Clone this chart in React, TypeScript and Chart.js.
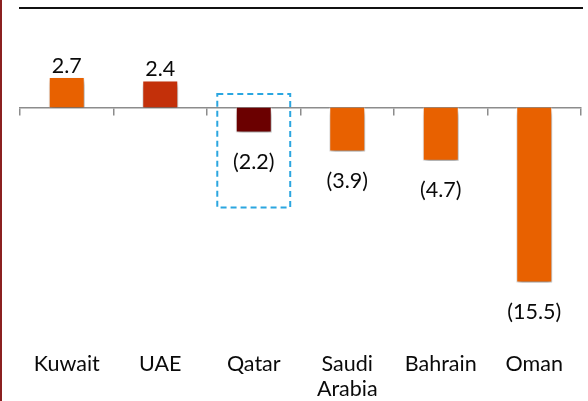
import React, { useEffect, useRef } from "react";
import { Chart, registerables } from "chart.js";

Chart.register(...registerables);

const categories: (string | string[])[] = ["Kuwait", "UAE", "Qatar", ["Saudi", "Arabia"], "Bahrain", "Oman"];
const values: number[] = [2.7, 2.4, -2.2, -3.9, -4.7, -15.5];
const barColors: string[] = ["#E86100", "#C3300A", "#6B0000", "#E86100", "#E86100", "#E86100"];
const highlightIndex = 2;
const highlightRange: [number, number] = [1.2, -8.85];

const FONT = "Lato, 'Open Sans', sans-serif";

const fmt = (v: number) => (v < 0 ? `(${Math.abs(v).toFixed(1)})` : v.toFixed(1));

const shadowPlugin = {
  id: "barShadow",
  beforeDatasetsDraw(chart: any) {
    const ctx = chart.ctx;
    ctx.save();
    ctx.shadowColor = "rgba(0,0,0,0.45)";
    ctx.shadowBlur = 5;
    ctx.shadowOffsetX = 1;
    ctx.shadowOffsetY = 4;
  },
  afterDatasetsDraw(chart: any) {
    chart.ctx.restore();
  },
};

const labelPlugin = {
  id: "valueLabels",
  afterDatasetsDraw(chart: any) {
    const ctx = chart.ctx;
    const meta = chart.getDatasetMeta(0);
    ctx.save();
    ctx.font = `21.5px ${FONT}`;
    ctx.fillStyle = "#0a0a0a";
    ctx.textAlign = "center";
    meta.data.forEach((bar: any, i: number) => {
      const v = values[i];
      if (v >= 0) {
        ctx.textBaseline = "alphabetic";
        ctx.fillText(fmt(v), bar.x, bar.y - 4);
      } else {
        ctx.textBaseline = "top";
        ctx.fillText(fmt(v), bar.x, bar.y + 19);
      }
    });
    ctx.restore();
  },
};

const boxPlugin = {
  id: "highlightBox",
  afterDraw(chart: any) {
    const ctx = chart.ctx;
    const xs = chart.scales.x;
    const ys = chart.scales.y;
    const cx = xs.getPixelForValue(highlightIndex);
    const catW = xs.width / categories.length;
    const half = catW * 0.39;
    const top = ys.getPixelForValue(highlightRange[0]);
    const bottom = ys.getPixelForValue(highlightRange[1]);
    ctx.save();
    ctx.strokeStyle = "#2BA6E0";
    ctx.lineWidth = 2;
    ctx.setLineDash([6, 4]);
    ctx.strokeRect(cx - half, top, half * 2, bottom - top);
    ctx.restore();
  },
};

export default function App() {
  const ref = useRef<HTMLCanvasElement>(null);
  useEffect(() => {
    document.body.style.margin = "0";
    const chart = new Chart(ref.current!, {
      type: "bar",
      data: {
        labels: categories,
        datasets: [
          {
            data: values,
            backgroundColor: barColors,
            borderColor: "rgba(255,255,255,0.7)",
            borderWidth: 1,
            barPercentage: 0.385,
            categoryPercentage: 1,
            xAxisID: "x",
          },
        ],
      },
      options: {
        animation: false,
        responsive: false,
        layout: { padding: { top: 20, left: 20, right: 7, bottom: -4 } },
        plugins: { legend: { display: false }, tooltip: { enabled: false } },
        scales: {
          x: {
            type: "category",
            position: { y: 0 } as any,
            offset: true,
            grid: {
              offset: true,
              drawOnChartArea: false,
              drawTicks: true,
              tickLength: 7,
              color: "#8C8C8C",
              lineWidth: 1.5,
            },
            border: { display: true, color: "#8C8C8C", width: 1.5 },
            ticks: { display: false },
          },
          x2: {
            type: "category",
            position: "bottom",
            offset: true,
            labels: categories as any,
            grid: { display: false, drawTicks: false },
            border: { display: false },
            ticks: {
              padding: 4,
              color: "#0a0a0a",
              font: { family: FONT, size: 21.5, lineHeight: 1.14 },
              maxRotation: 0,
              autoSkip: false,
            },
          },
          y: {
            display: false,
            min: -21.3,
            max: 7.76,
          },
        },
      },
      plugins: [shadowPlugin, labelPlugin, boxPlugin],
    });
    return () => chart.destroy();
  }, []);
  return (
    <div style={{ position: "relative", width: 588, height: 401, background: "#fff" }}>
      <canvas ref={ref} width={588} height={401} style={{ position: "absolute", left: 0, top: 0 }} />
      <div style={{ position: "absolute", left: 0, top: 0, width: 2, height: 401, background: "#8B2020" }} />
      <div style={{ position: "absolute", left: 19, top: 7, width: 564, height: 2, background: "#111" }} />
    </div>
  );
}
